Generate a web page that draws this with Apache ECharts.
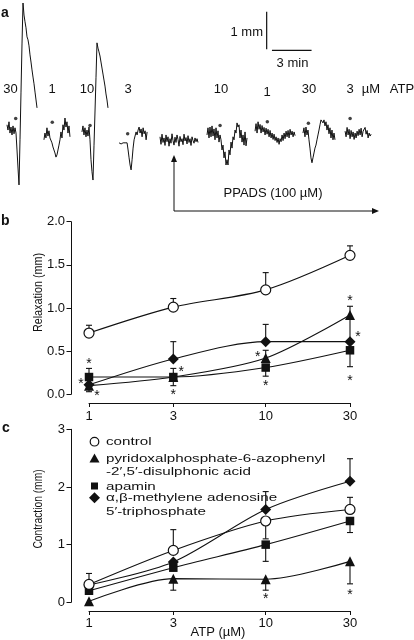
<!DOCTYPE html>
<html><head><meta charset="utf-8">
<script src="https://cdn.jsdelivr.net/npm/echarts@6/dist/echarts.min.js"></script>
<style>html,body{margin:0;padding:0;background:#fff}#c{width:414px;height:640px}</style>
</head><body><div id="c"></div>
<script>
// ---------- data ----------
const CONC = [1, 3, 10, 30];            // ATP (µM)
const X_TICKS = [1, 3, 10, 30];

// panel b: relaxation (mm)
const B_CONTROL = [0.71, 1.01, 1.21, 1.61];
const B_PPADS   = [0.10, 0.20, 0.42, 0.92];
const B_APAMIN  = [0.20, 0.20, 0.31, 0.51];
const B_ABMEATP = [0.11, 0.41, 0.61, 0.61];
const B_ERR = [[1,0.71,0.80],[3,1.01,1.11],[10,1.21,1.41],[30,1.61,1.72],
               [10,0.42,0.51],[30,0.92,1.02],[30,0.61,0.90],
               [1,0.20,0.30],[3,0.20,0.30],[3,0.20,0.10],[10,0.31,0.21],[30,0.51,0.32],
               [1,0.11,0.03],[3,0.41,0.61],[10,0.61,0.81]];
const B_STARS = [[1,0.38,0],[1,0.15,-1],[1,0.01,1],[3,0.29,1],[3,0.03,0],
                 [10,0.47,-1],[10,0.13,0],[30,1.11,0],[30,0.70,1],[30,0.19,0]];

// panel c: contraction (mm)
const C_CONTROL = [0.31, 0.90, 1.41, 1.61];
const C_PPADS   = [0.02, 0.41, 0.40, 0.71];
const C_APAMIN  = [0.20, 0.60, 1.00, 1.41];
const C_ABMEATP = [0.30, 0.70, 1.61, 2.10];
const C_ERR = [[1,0.31,0.50],[3,0.90,1.26],[10,1.41,1.10],[30,1.61,1.82],
               [3,0.41,0.21],[10,0.40,0.21],[30,0.71,0.32],
               [10,1.00,0.71],[30,1.41,1.21],
               [10,1.61,1.92],[30,2.10,2.49]];
const C_STARS = [[10,0.10,0],[30,0.18,0]];

const SERIES_NAMES = ['control', 'pyridoxalphosphate-6-azophenyl\n-2\u2032,5\u2032-disulphonic acid', 'apamin', '\u03b1,\u03b2-methylene adenosine\n5\u2032-triphosphate'];

// panel a: isometric traces (mm vs min), sampled every SAMPLE_DT min
const SAMPLE_DT = 0.0758;
const TRACE_START = [0.53, 3.33, 6.21, 9.02, 12.12, 15.68, 19.32, 22.95, 26.14];
const TR_30 = [0.27,0.13,0.35,0.05,0.21,0,0.24,0.03,0.19,0.05,-0.4,-0.88,-1.33,-0.13,1.14,2.42,3.51,3.19,3.01,2.85,2.61,2.53,2.37,2.13,1.94,1.73,1.54,1.36,1.14,0.93,0.72];
const TR_1 = [-0.13,0.05,-0.08,0.19,-0.03,0.11,-0.08,-0.13,-0.21,-0.32,-0.4,-0.48,-0.59,-0.53,-0.4,-0.27,-0.13,0.08,-0.08,0.27,0.13,0.45,0.21,0.35,0.05,0.24,-0.05];
const TR_10 = [0.08,0.24,0,0.19,-0.05,0.13,-0.03,0.21,-0.13,-0.66,-0.98,-1.2,-0.29,0.61,1.52,2.45,2.31,2.21,2.10,1.94,1.78,1.62,1.46,1.30,1.09,0.93,0.72];
const TR_3 = [-0.21,-0.19,-0.24,-0.19,-0.21,-0.16,-0.21,-0.19,-0.21,-0.4,-0.61,-0.8,-0.93,-0.66,-0.35,-0.13,-0.08,0.08,0,0.13,0.21,0.05,0.16,-0.05,0.19,0.03,0.11,-0.13,0.08];
const TR_PPADS = [-0.05,-0.25,0.02,-0.2,-0.08,-0.28,0.0,-0.18,-0.05,-0.3,-0.1,-0.22,0.03,-0.15,-0.27,-0.06,-0.2,0.0,-0.12,-0.3,-0.04,-0.18,-0.1,-0.26,0.02,-0.16,-0.07,-0.24,-0.02,-0.2,-0.1,-0.28,-0.05,-0.15,-0.22,-0.08,-0.18,-0.1,-0.2];
const TR_P10 = [0,0.19,-0.08,0.21,-0.05,0.24,-0.03,0.16,-0.13,0.19,-0.08,0.11,-0.19,0,-0.13,-0.4,-0.27,-0.61,-0.45,-0.8,-0.66,-0.8,-0.4,-0.53,-0.19,-0.35,-0.05,-0.13,0.13,0.05,0.32,0.21,0.27,-0.08,0.13,-0.19,0,-0.27,0.08,-0.29,-0.08];
const TR_P1 = [0.1,0.3,0.05,0.35,0.15,0.28,0.05,0.25,0.08,0.2,0.0,0.18,0.02,0.15,-0.05,0.12,-0.08,0.05,-0.12,0.02,-0.15,-0.05,-0.2,-0.08,-0.25,-0.1,-0.18,0.0,-0.15,0.05,-0.1,0.1,-0.05,0.12,-0.08,0.15,0.0,0.1,-0.05,0.08,-0.02];
const TR_P30 = [0.05,0.19,-0.05,0.21,0,0.13,-0.13,-0.35,-0.61,-0.74,-0.61,-0.48,-0.35,-0.27,-0.13,0,0.13,0.27,0.4,0.45,0.32,0.4,0.24,0.35,0.13,0.27,0.03,0.19,-0.08,0.13,-0.13,0.05,-0.13];
const TR_P3 = [0.1,-0.05,0.2,0.0,0.15,-0.1,0.12,-0.05,0.08,-0.12,0.05,-0.08,0.1,-0.02,0.15,0.0,0.18,-0.05,0.1,0.05,0.2,0.02,0.12,-0.08,0.05,-0.03,0.02];
const TRACES = [TR_30, TR_1, TR_10, TR_3, TR_PPADS, TR_P10, TR_P1, TR_P30, TR_P3];
const STIM_T = [1.19, 3.96, 6.82, 9.67, 16.67, 20.25, 23.36, 26.52];
const STIM_V = [0.44, 0.34, 0.25, 0.03, 0.25, 0.35, 0.31, 0.44];
const DOSES = ['30', '1', '10', '3', '10', '1', '30', '3'];
const SCALE_MM = 1, SCALE_MIN = 3;

// ---------- chart ----------
const FONT = '"Liberation Sans", Arial, Helvetica, sans-serif';
const INK = '#111';
const chart = echarts.init(document.getElementById('c'), null, {width: 414, height: 640});
const lx = c => Math.log10(c);

// grid indices: 0 = panel a; 1,2,3 = panel b (data, y-axis, x-axis); 4,5,6 = panel c
const grids = [
  {left: 0, top: 0, width: 414, height: 215},
  {left: 89, top: 221.7, width: 261, height: 172.6},
  {left: 71, top: 221.7, width: 279, height: 172.6},
  {left: 89, top: 221.7, width: 261, height: 181.3},
  {left: 89, top: 429.3, width: 261, height: 173},
  {left: 71, top: 429.3, width: 279, height: 173},
  {left: 89, top: 429.3, width: 261, height: 181.7}
];
const hiddenX = g => ({type: 'value', gridIndex: g, min: 0, max: lx(30), show: false});
const hiddenY = (g, max) => ({type: 'value', gridIndex: g, min: 0, max: max, show: false});
function xAxisLog(g, margin) {
  const vals = X_TICKS.map(lx);
  return {type: 'value', gridIndex: g, min: 0, max: lx(30), position: 'bottom',
    axisLine: {onZero: false, lineStyle: {color: INK, width: 1}},
    axisTick: {customValues: vals, length: 4, lineStyle: {color: INK}},
    axisLabel: {customValues: vals, margin: margin, color: INK, fontFamily: FONT, fontSize: 13,
      formatter: v => String(X_TICKS.find(t => Math.abs(lx(t) - v) < 1e-6))},
    splitLine: {show: false}};
}
function yAxisLin(g, max, interval, digits) {
  return {type: 'value', gridIndex: g, min: 0, max: max, interval: interval, position: 'left',
    axisLine: {show: true, onZero: false, lineStyle: {color: INK, width: 1}},
    axisTick: {show: true, length: 4.5, lineStyle: {color: INK}},
    axisLabel: {margin: 6, color: INK, fontFamily: FONT, fontSize: 13, formatter: v => v.toFixed(digits)},
    splitLine: {show: false}};
}

function curve(vals, sym, g) {
  const open = sym === 'circle';
  const size = {circle: 10, triangle: 10, rect: 8.5, diamond: 11}[sym];
  return {type: 'line', xAxisIndex: g, yAxisIndex: g,
    data: CONC.map((c, i) => [lx(c), vals[i]]),
    symbol: sym, symbolSize: size, showAllSymbol: true, smooth: 0.3,
    lineStyle: {color: INK, width: 1.1},
    itemStyle: {color: open ? '#fff' : INK, borderColor: INK, borderWidth: open ? 1.2 : 0, opacity: 1},
    emphasis: {disabled: true}, silent: true, z: open ? 4 : 3};
}
function errBars(arr, g) {
  return {type: 'custom', xAxisIndex: g, yAxisIndex: g, silent: true, z: 2,
    data: arr.map(e => [lx(e[0]), e[1], e[2]]), encode: {x: 0, y: [1, 2]},
    renderItem: (p, api) => {
      const x = api.value(0);
      const a = api.coord([x, api.value(1)]), b = api.coord([x, api.value(2)]);
      const st = {stroke: INK, lineWidth: 1.1};
      return {type: 'group', children: [
        {type: 'line', shape: {x1: a[0], y1: a[1], x2: b[0], y2: b[1]}, style: st},
        {type: 'line', shape: {x1: b[0] - 3, y1: b[1], x2: b[0] + 3, y2: b[1]}, style: st}]};
    }};
}
function stars(arr, g) {
  return {type: 'custom', xAxisIndex: g, yAxisIndex: g, silent: true, z: 5,
    data: arr.map(e => [lx(e[0]), e[1], e[2]]), encode: {x: 0, y: 1},
    renderItem: (p, api) => {
      const pt = api.coord([api.value(0), api.value(1)]);
      return {type: 'text', x: pt[0] + api.value(2) * 8, y: pt[1] + 3,
        style: {text: '*', font: '14px ' + FONT, fill: INK, align: 'center', verticalAlign: 'middle',
                textAlign: 'center', textVerticalAlign: 'middle'}};
    }};
}

// panel a series
const traceSeries = TRACES.map((arr, k) => ({
  type: 'line', xAxisIndex: 0, yAxisIndex: 0, symbol: 'none', silent: true, smooth: false,
  data: arr.map((v, i) => [TRACE_START[k] + i * SAMPLE_DT, v]),
  lineStyle: {color: INK, width: 1}}));
const scaleT = 20.2, scaleV = 2.28;
const scaleBars = [
  {type: 'line', xAxisIndex: 0, yAxisIndex: 0, symbol: 'none', silent: true,
   data: [[scaleT, scaleV], [scaleT, scaleV + SCALE_MM]], lineStyle: {color: INK, width: 1.2}},
  {type: 'line', xAxisIndex: 0, yAxisIndex: 0, symbol: 'none', silent: true,
   data: [[scaleT + 0.4, scaleV - 0.03], [scaleT + 0.4 + SCALE_MIN, scaleV - 0.03]], lineStyle: {color: INK, width: 1.2}}];
const stimDots = {type: 'scatter', xAxisIndex: 0, yAxisIndex: 0, silent: true, symbolSize: 3.5,
  data: STIM_T.map((t, i) => [t, STIM_V[i]]), itemStyle: {color: INK}};

// graphics
const txt = (text, x, y, o) => Object.assign({type: 'text', x: x, y: y, silent: true,
  style: Object.assign({text: text, font: '13px ' + FONT, fill: INK, align: 'center', verticalAlign: 'middle'}, o || {})});
const doseX = [10.5, 52, 87, 128, 221, 267, 309, 350];
const graphics = [
  txt('a', 1, 13, {font: 'bold 14px ' + FONT, align: 'left'}),
  txt('b', 1, 221, {font: 'bold 14px ' + FONT, align: 'left'}),
  txt('c', 2, 428, {font: 'bold 14px ' + FONT, align: 'left'}),
  txt('1 mm', 263, 32, {align: 'right'}),
  txt('3 min', 292.5, 63),
  txt('\u00b5M', 371, 89),
  txt('ATP', 402, 89),
  txt('PPADS (100 \u00b5M)', 273, 193),
  {type: 'polyline', silent: true, shape: {points: [[174, 160], [174, 211], [373, 211]]}, style: {stroke: INK, lineWidth: 1, fill: null}},
  {type: 'polygon', silent: true, shape: {points: [[174, 155], [171, 162], [177, 162]]}, style: {fill: INK}},
  {type: 'polygon', silent: true, shape: {points: [[379, 211], [372, 208], [372, 214]]}, style: {fill: INK}},
  Object.assign(txt('Relaxation (mm)', 38, 292.5, {font: '13.5px ' + FONT}), {rotation: Math.PI / 2, scaleX: 0.8}),
  Object.assign(txt('Contraction (mm)', 38, 509, {font: '13.5px ' + FONT}), {rotation: Math.PI / 2, scaleX: 0.76}),
  txt('ATP (\u00b5M)', 218, 632),
];
DOSES.forEach((d, i) => graphics.push(txt(d, doseX[i], i === 5 ? 92 : 89)));

// legend (panel c)
const legSyms = [
  {type: 'circle', shape: {cx: 94.5, cy: 441.7, r: 4.3}, style: {fill: '#fff', stroke: INK, lineWidth: 1.2}},
  {type: 'polygon', shape: {points: [[94.5, 453.5], [89.5, 462.5], [99.5, 462.5]]}, style: {fill: INK}},
  {type: 'rect', shape: {x: 91, y: 482.5, width: 7, height: 7}, style: {fill: INK}},
  {type: 'polygon', shape: {points: [[94.5, 492.2], [100, 497.7], [94.5, 503.2], [89, 497.7]]}, style: {fill: INK}},
];
const legTextY = [441.7, 458.3, 486.5, 497.7];
legSyms.forEach(s => graphics.push(Object.assign({silent: true}, s)));
SERIES_NAMES.forEach((n, i) => graphics.push(Object.assign(
  txt(n, 106, legTextY[i] - 6.5, {font: '11.5px ' + FONT, align: 'left', verticalAlign: 'top', lineHeight: 13.5}),
  {scaleX: 1.32, originX: 0, originY: 0})));

chart.setOption({
  animation: false,
  backgroundColor: '#fff',
  grid: grids,
  xAxis: [
    {type: 'value', gridIndex: 0, min: 0, max: 31.36, show: false},
    hiddenX(1), hiddenX(2), xAxisLog(3, 7),
    hiddenX(4), hiddenX(5), xAxisLog(6, 6)
  ],
  yAxis: [
    {type: 'value', gridIndex: 0, min: -2.13, max: 3.59, show: false},
    hiddenY(1, 2), yAxisLin(2, 2, 0.5, 1), hiddenY(3, 2),
    hiddenY(4, 3), yAxisLin(5, 3, 1, 0), hiddenY(6, 3)
  ],
  series: [
    ...traceSeries, ...scaleBars, stimDots,
    errBars(B_ERR, 1),
    curve(B_APAMIN, 'rect', 1), curve(B_PPADS, 'triangle', 1), curve(B_ABMEATP, 'diamond', 1), curve(B_CONTROL, 'circle', 1),
    stars(B_STARS, 1),
    errBars(C_ERR, 4),
    curve(C_PPADS, 'triangle', 4), curve(C_APAMIN, 'rect', 4), curve(C_ABMEATP, 'diamond', 4), curve(C_CONTROL, 'circle', 4),
    stars(C_STARS, 4)
  ],
  graphic: graphics
});
</script></body></html>
